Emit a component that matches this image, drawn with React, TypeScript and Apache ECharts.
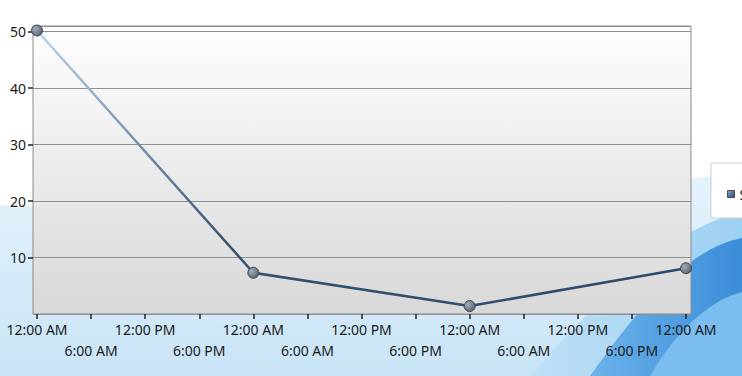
import React, { useEffect, useRef } from "react";
import * as echarts from "echarts";

// ---- data ----
const hoursFromStart = [0, 24, 48, 72];
const seriesValues = [50.2, 7.3, 1.4, 8.1];
const seriesName = "Series 1";
const yTicks = [0, 10, 20, 30, 40, 50];
const xTickLabels: Record<number, string> = {
  0: "12:00 AM",
  6: "6:00 AM",
  12: "12:00 PM",
  18: "6:00 PM",
};

echarts.graphic.registerShape(
  "bgWash",
  echarts.graphic.extendPath("M0,205 C200,215 450,225 742,170 L742,376 L0,376 Z", {})
);
echarts.graphic.registerShape(
  "bgMid",
  echarts.graphic.extendPath("M742,212 C700,222 640,250 530,376 L742,376 Z", {})
);
echarts.graphic.registerShape(
  "bgBand",
  echarts.graphic.extendPath("M742,238 C705,246 665,270 590,376 L742,376 Z", {})
);
echarts.graphic.registerShape(
  "bgStreak",
  echarts.graphic.extendPath("M742,292 C712,300 680,325 650,376 L742,376 Z", {})
);

const hourOf = (v: number) => ((Math.round(v) % 24) + 24) % 24;

export default function App() {
  const ref = useRef<HTMLDivElement>(null);
  useEffect(() => {
    if (!ref.current) return;
    const chart = echarts.init(ref.current, null, { renderer: "svg" });
    const yMax = 51;
    const lineGrad = new echarts.graphic.LinearGradient(0, 0, 1, 0, [
      { offset: 0, color: "#bcd3ec" },
      { offset: 0.3, color: "#34516f" },
      { offset: 1, color: "#2c4a6b" },
    ]);
    const dotGrad = new echarts.graphic.RadialGradient(0.35, 0.35, 0.75, [
      { offset: 0, color: "#a3acb8" },
      { offset: 1, color: "#555e6d" },
    ]);
    const labelBase = {
      interval: 0,
      showMinLabel: true,
      showMaxLabel: true,
      hideOverlap: false,
      fontSize: 14,
      color: "#1a1a1a",
      fontFamily: "Noto Sans",
    };
    chart.setOption({
      animation: false,
      backgroundColor: "#ffffff",
      textStyle: { fontFamily: "Noto Sans" },
      graphic: [
        {
          type: "bgWash",
          z: -100,
          silent: true,
          style: {
            fill: {
              type: "linear", x: 0, y: 0, x2: 0, y2: 1,
              colorStops: [
                { offset: 0, color: "#e6f3fc" },
                { offset: 1, color: "#c8e4f6" },
              ],
            },
          },
        },
        {
          type: "bgMid",
          z: -99,
          silent: true,
          style: {
            fill: {
              type: "linear", x: 0, y: 0, x2: 1, y2: 0,
              colorStops: [
                { offset: 0, color: "#bfe0f6" },
                { offset: 1, color: "#9cd0f2" },
              ],
            },
          },
        },
        {
          type: "bgBand",
          z: -98,
          silent: true,
          style: {
            fill: {
              type: "linear", x: 0, y: 0, x2: 1, y2: 0,
              colorStops: [
                { offset: 0, color: "#6cb2ea" },
                { offset: 1, color: "#3b8dd9" },
              ],
            },
          },
        },
        {
          type: "bgStreak",
          z: -97,
          silent: true,
          style: { fill: "#7bbdee" },
        },
      ],
      legend: {
        left: 711,
        top: 163,
        padding: [24, 12, 17, 16],
        backgroundColor: "#ffffff",
        borderColor: "#cfcfcf",
        borderWidth: 1,
        itemWidth: 7,
        itemHeight: 7,
        icon: "rect",
        itemStyle: {
          color: new echarts.graphic.LinearGradient(0, 0, 1, 1, [
            { offset: 0, color: "#8aa6c8" },
            { offset: 1, color: "#27456f" },
          ]),
          borderColor: "#4a4a4a",
          borderWidth: 1,
        },
        textStyle: { fontSize: 14, color: "#1a1a1a", fontFamily: "Noto Sans" },
        data: [seriesName],
      },
      grid: [
        {
          left: 33,
          right: 51,
          top: 26,
          bottom: 62,
          show: true,
          borderColor: "#8a8a8a",
          borderWidth: 1,
          backgroundColor: {
            type: "linear", x: 0, y: 0, x2: 0, y2: 1,
            colorStops: [
              { offset: 0, color: "#fefefe" },
              { offset: 1, color: "#d8d8d8" },
            ],
          },
        },
        { left: 37, right: 56, top: 26, bottom: 62 },
      ],
      xAxis: [
        { gridIndex: 0, type: "value", min: 0, max: 1, show: false },
        {
          gridIndex: 1,
          type: "value",
          position: "bottom",
          min: 0,
          max: 72,
          interval: 6,
          axisLine: { show: false },
          axisTick: { show: true, length: 5, lineStyle: { color: "#222", width: 1.5 } },
          splitLine: { show: false },
          axisLabel: {
            ...labelBase,
            margin: 8,
            formatter: (v: number) => {
              const h = hourOf(v);
              return h % 12 === 0 ? xTickLabels[h] : "";
            },
          },
        },
        {
          gridIndex: 1,
          type: "value",
          position: "bottom",
          min: 0,
          max: 72,
          interval: 6,
          axisLine: { show: false },
          axisTick: { show: false },
          splitLine: { show: false },
          axisLabel: {
            ...labelBase,
            margin: 29,
            formatter: (v: number) => {
              const h = hourOf(v);
              return h % 12 === 6 ? xTickLabels[h] : "";
            },
          },
        },
      ],
      yAxis: [
        {
          gridIndex: 0,
          type: "value",
          min: 0,
          max: yMax,
          interval: 10,
          axisLine: { show: false },
          axisTick: { show: true, length: 5, lineStyle: { color: "#222", width: 1.5 } },
          splitLine: { show: true, lineStyle: { color: "#8f8f8f", width: 1 } },
          axisLabel: {
            margin: 7,
            fontSize: 14,
            color: "#1a1a1a",
            fontFamily: "Noto Sans",
            showMinLabel: false,
            showMaxLabel: false,
            formatter: (v: number) => (yTicks.includes(v) ? String(v) : ""),
          },
        },
        { gridIndex: 1, type: "value", min: 0, max: yMax, show: false },
      ],
      series: [
        {
          name: seriesName,
          type: "line",
          xAxisIndex: 1,
          yAxisIndex: 1,
          data: hoursFromStart.map((h, i) => [h, seriesValues[i]]),
          symbol: "circle",
          symbolSize: 11,
          showAllSymbol: true,
          lineStyle: { width: 2.5, color: lineGrad },
          itemStyle: { color: dotGrad, borderColor: "#3e4757", borderWidth: 1 },
          z: 5,
        },
      ],
    });
    return () => chart.dispose();
  }, []);
  return (
    <div
      ref={ref}
      style={{ position: "fixed", left: 0, top: 0, width: 742, height: 376 }}
    />
  );
}
